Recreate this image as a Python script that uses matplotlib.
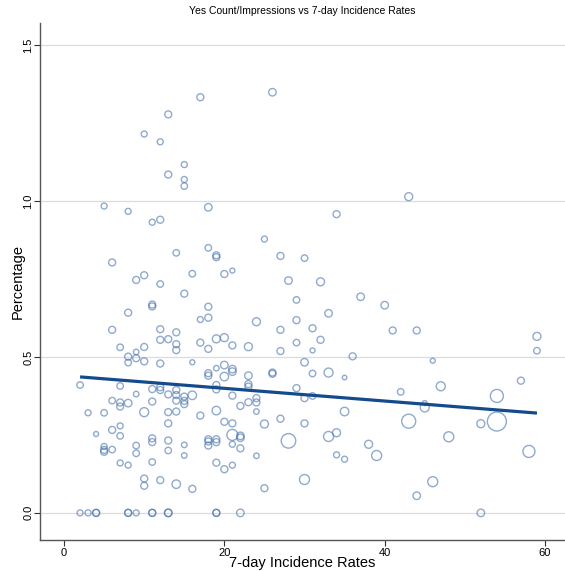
import matplotlib
matplotlib.use("Agg")
import matplotlib.pyplot as plt
import numpy as np

plt.rcParams['font.family'] = ['Liberation Sans', 'DejaVu Sans']

title = "Yes Count/Impressions vs 7-day Incidence Rates"
x_label = "7-day Incidence Rates"
y_label = "Percentage"
x_ticks = [0, 20, 40, 60]
y_ticks = [0.0, 0.5, 1.0, 1.5]
y_tick_labels = ["0.0", "0.5", "1.0", "1.5"]

# (incidence rate, percentage, marker weight ~ diameter)
points = [
    (2, 0, 6), (3, 0, 6), (4, 0, 7), (4, 0, 7), (8, 0, 7), (8, 0, 7), (9, 0, 6),
    (11, 0, 7), (11, 0, 7), (13, 0, 7.5), (13, 0, 7.5), (19, 0, 7), (19, 0, 7),
    (22, 0, 7.5), (52, 0, 7.5),
    (17, 1.333, 7), (26, 1.349, 7.5), (13, 1.278, 7), (10, 1.215, 6), (12, 1.19, 6),
    (15, 1.117, 6), (13, 1.085, 7), (15, 1.069, 6), (15, 1.048, 6.5), (5, 0.984, 6),
    (8, 0.967, 6), (18, 0.98, 7.5), (11, 0.932, 6), (12, 0.94, 7), (25, 0.878, 6),
    (6, 0.803, 7), (14, 0.834, 6.5), (18, 0.85, 6.5), (19, 0.826, 7), (19, 0.82, 7),
    (27, 0.824, 7), (9, 0.747, 7), (10, 0.762, 7), (12, 0.734, 6.5), (16, 0.767, 6.5),
    (20, 0.766, 7), (21, 0.777, 5), (28, 0.745, 7.5),
    (43, 1.014, 8), (34, 0.958, 7), (30, 0.817, 6.5), (29, 0.683, 6.5), (32, 0.741, 8),
    (37, 0.693, 7.5), (40, 0.666, 7.5), (29, 0.618, 7), (33, 0.64, 7.5), (31, 0.592, 7),
    (32, 0.555, 7), (29, 0.546, 6.5), (41, 0.585, 7), (44, 0.585, 7), (31, 0.521, 5),
    (36, 0.502, 7), (59, 0.566, 8), (59, 0.52, 6.5), (30, 0.483, 7.5), (31, 0.447, 6.5),
    (33, 0.45, 9), (35, 0.434, 4.5), (46, 0.488, 5), (29, 0.4, 7), (30, 0.368, 7),
    (31, 0.375, 6.5), (42, 0.388, 6.5), (47, 0.406, 9), (57, 0.424, 7), (54, 0.375, 13),
    (45, 0.352, 5), (45, 0.338, 9), (35, 0.325, 8.5), (30, 0.287, 7), (43, 0.294, 14),
    (52, 0.286, 8), (54, 0.293, 19), (28, 0.231, 14.5), (33, 0.245, 10), (34, 0.257, 8),
    (38, 0.22, 8), (39, 0.184, 10), (48, 0.244, 10), (58, 0.197, 12), (34, 0.186, 6),
    (35, 0.172, 6), (30, 0.107, 10), (46, 0.1, 10), (44, 0.055, 7.5),
    (27, 0.587, 7), (27, 0.519, 7), (27, 0.302, 7),
    (15, 0.703, 7), (18, 0.661, 7), (17, 0.62, 6), (18, 0.626, 7), (24, 0.613, 8),
    (14, 0.579, 7), (14, 0.541, 7), (14, 0.522, 7), (17, 0.546, 7), (18, 0.526, 7),
    (19, 0.558, 8), (20, 0.562, 8), (21, 0.537, 7), (23, 0.533, 8), (16, 0.483, 5),
    (18, 0.448, 7), (18, 0.44, 7), (19, 0.464, 5.5), (20, 0.474, 7.5), (20, 0.437, 8.5),
    (21, 0.461, 7.5), (21, 0.453, 7.5), (23, 0.44, 7.5), (26, 0.45, 7), (26, 0.446, 7),
    (19, 0.41, 7), (19, 0.396, 7), (23, 0.413, 7), (23, 0.405, 7), (14, 0.394, 7),
    (14, 0.378, 7), (14, 0.36, 7), (14, 0.325, 7), (15, 0.373, 7), (15, 0.359, 7),
    (15, 0.349, 7), (16, 0.377, 8.5), (21, 0.376, 7), (22, 0.343, 7), (23, 0.355, 7),
    (24, 0.368, 7), (24, 0.354, 7), (24, 0.325, 5.5), (17, 0.312, 7), (19, 0.328, 8.5),
    (20, 0.292, 7), (21, 0.287, 7), (25, 0.285, 8), (21, 0.25, 11), (22, 0.247, 7.5),
    (22, 0.241, 7.5), (18, 0.236, 7), (18, 0.229, 7), (18, 0.216, 7), (19, 0.236, 7),
    (19, 0.227, 7), (21, 0.22, 6), (22, 0.207, 7), (15, 0.218, 5.5), (15, 0.184, 5.5),
    (24, 0.183, 5.5), (19, 0.161, 7), (20, 0.14, 7), (21, 0.153, 6), (14, 0.092, 8.5),
    (16, 0.077, 7), (25, 0.079, 7),
    (11, 0.668, 7), (11, 0.662, 7), (8, 0.642, 7), (6, 0.587, 7), (12, 0.589, 7),
    (12, 0.555, 7), (13, 0.557, 7), (7, 0.531, 6.5), (9, 0.516, 5.5), (10, 0.532, 7),
    (8, 0.501, 7), (8, 0.482, 6.5), (9, 0.496, 7), (10, 0.486, 7), (12, 0.479, 7),
    (2, 0.41, 6.5), (7, 0.407, 6.5), (9, 0.381, 5.5), (11, 0.397, 7), (12, 0.403, 7),
    (12, 0.394, 7), (13, 0.38, 7), (6, 0.36, 6.5), (7, 0.354, 7), (7, 0.341, 7),
    (8, 0.352, 7.5), (11, 0.357, 7), (10, 0.323, 9), (13, 0.323, 7), (3, 0.321, 6),
    (5, 0.321, 6.5), (13, 0.287, 7), (7, 0.279, 6), (6, 0.266, 7), (4, 0.253, 5),
    (7, 0.247, 6.5), (11, 0.239, 7), (11, 0.227, 7), (13, 0.232, 7), (5, 0.213, 6),
    (5, 0.202, 7), (5, 0.196, 7), (6, 0.203, 6.5), (9, 0.216, 6.5), (9, 0.191, 6.5),
    (13, 0.2, 6.5), (7, 0.16, 6), (8, 0.153, 6), (11, 0.163, 6.5), (10, 0.11, 7),
    (10, 0.087, 7), (12, 0.105, 7),
]
incidence = [p[0] for p in points]
percentage = [p[1] for p in points]
weight = [p[2] for p in points]

# fitted line
fit_x = [2, 59]
fit_y = [0.436, 0.320]

fig = plt.figure(figsize=(5.65, 5.71), dpi=100)
ax = fig.add_axes([40 / 565, 31 / 571, 525 / 565, 517 / 571])

sizes = (np.array(weight) * 0.72) ** 2
ax.scatter(incidence, percentage, s=sizes, facecolors='none',
           edgecolors='#4672AE', alpha=0.6, linewidths=1.0, zorder=3)
ax.plot(fit_x, fit_y, color='#144B8C', lw=2.3, zorder=4, solid_capstyle='butt')

ax.set_xlim(-3.0, 62.5)
ax.set_ylim(-0.087, 1.571)
ax.set_xticks(x_ticks)
ax.set_yticks(y_ticks)
ax.set_yticklabels(y_tick_labels, rotation=90, va='center')
ax.tick_params(axis='both', labelsize=8, length=4, width=0.8, color='#333333')
ax.tick_params(axis='x', pad=1.5)
ax.tick_params(axis='y', pad=0.8)
ax.yaxis.grid(True, color='#DCDCDC', lw=0.9)
ax.set_axisbelow(True)
for s in ['top', 'right']:
    ax.spines[s].set_visible(False)
for s in ['left', 'bottom']:
    ax.spines[s].set_color('#555555')
    ax.spines[s].set_linewidth(1.0)

ax.set_xlabel(x_label, fontsize=10.5)
ax.set_ylabel(y_label, fontsize=10.5)
ax.xaxis.set_label_coords(0.5, (540 - 563) / 517)
ax.xaxis.label.set_va('center')
ax.yaxis.set_label_coords((18 - 40) / 525, 0.5)
ax.yaxis.label.set_va('center')
ax.yaxis.label.set_ha('center')
fig.text((40 + 565) / 2 / 565, 1 - 11 / 571, title, ha='center', va='center', fontsize=7.5)

fig.savefig("out.png", dpi=100)
